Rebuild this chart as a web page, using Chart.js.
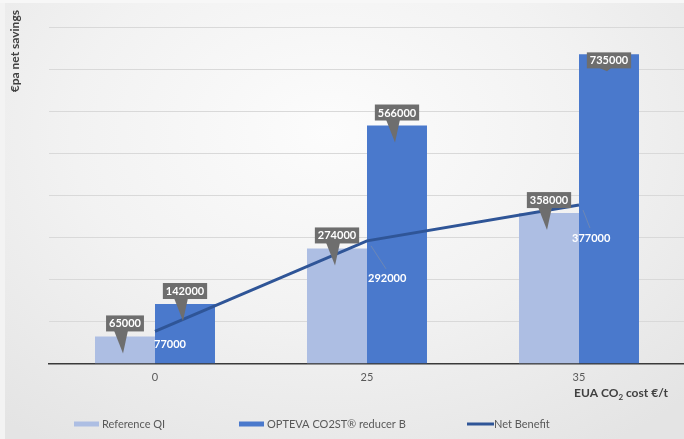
<!DOCTYPE html>
<html>
<head>
<meta charset="utf-8">
<script src="https://cdn.jsdelivr.net/npm/chart.js@4.4.1/dist/chart.umd.min.js"></script>
<style>
  html, body {
    margin: 0;
    padding: 0;
    width: 684px;
    height: 439px;
    overflow: hidden;
  }
  body {
    position: relative;
    background: radial-gradient(ellipse 75% 85% at 48% 30%, #fcfcfc 0%, #f2f2f2 50%, #e4e4e4 100%);
  }
  /* thin pale frame on the top and left edges */
  body::before {
    content: "";
    position: absolute;
    left: 0; top: 0; bottom: 0;
    width: 5px;
    background: #f3f3f3;
  }
  body::after {
    content: "";
    position: absolute;
    left: 0; top: 0; right: 0;
    height: 3px;
    background: #f7f7f7;
  }
  #wrap {
    position: relative;
    width: 690px;
    height: 439px;
  }
</style>
</head>
<body>
<div id="wrap"><canvas id="chart"></canvas></div>

<script>
// ======================
// DATA
// ======================
const costs = ["0", "25", "35"];
const referenceQI = [65000, 274000, 358000];
const opteva = [142000, 566000, 735000];
const netBenefit = [77000, 292000, 377000];

const seriesNames = ["Reference QI", "OPTEVA CO2ST\u00AE reducer B", "Net Benefit"];
const yMin = 0;
const yMax = 800000;
const yStep = 100000;

// ======================
// STYLE
// ======================
const FONT = "Lato, 'Open Sans', sans-serif";
const lightBlue = "#adbee3";
const midBlue = "#4a79cc";
const darkBlue = "#2f5597";
const calloutGrey = "#6e6e6e";
const textGrey = "#595959";

// vertical lift of each callout box centre from the bar top
const calloutLift = [
  [-13, -13, -13],
  [-13, -13, 6]
];
// where the net benefit labels sit, relative to the line point
const lineLabelShift = [[-1, 13], [1, 38], [-7, 33]];

// ======================
// LABEL HELPERS
// ======================
function drawCallout(ctx, x, top, text, lift) {
  const w = ctx.measureText(text).width + 6;
  const h = 16;
  const cy = top + lift;
  const left = x - w / 2;

  ctx.fillStyle = calloutGrey;
  // pointer
  ctx.beginPath();
  ctx.moveTo(x - 11, cy + h / 2 - 1);
  ctx.lineTo(x + 3, cy + h / 2 - 1);
  ctx.lineTo(x - 2, top + 17);
  ctx.closePath();
  ctx.fill();
  // box
  ctx.fillRect(left, cy - h / 2, w, h);

  ctx.fillStyle = "#ffffff";
  ctx.textAlign = "center";
  ctx.textBaseline = "middle";
  ctx.fillText(text, x, cy + 0.5);
}

const labelPlugin = {
  id: "valueLabels",
  afterDatasetsDraw(chart) {
    const ctx = chart.ctx;
    ctx.save();
    ctx.font = "bold 11px " + FONT;

    [0, 1].forEach(di => {
      chart.getDatasetMeta(di).data.forEach((bar, i) => {
        const value = chart.data.datasets[di].data[i];
        drawCallout(ctx, bar.x, bar.y, String(value), calloutLift[di][i]);
      });
    });

    // net benefit values, white text inside the bars
    chart.getDatasetMeta(2).data.forEach((pt, i) => {
      const value = chart.data.datasets[2].data[i];
      const [dx, dy] = lineLabelShift[i];
      if (i > 0) {
        ctx.strokeStyle = "rgba(150,150,150,0.45)";
        ctx.lineWidth = 1;
        ctx.beginPath();
        ctx.moveTo(pt.x + 4, pt.y + 5);
        ctx.lineTo(pt.x + dx + 18, pt.y + dy - 10);
        ctx.stroke();
      }
      ctx.fillStyle = "#ffffff";
      ctx.textAlign = "left";
      ctx.textBaseline = "middle";
      ctx.fillText(String(value), pt.x + dx, pt.y + dy);
    });
    ctx.restore();
  }
};

// axis titles and legend along the bottom
const framePlugin = {
  id: "frame",
  afterDraw(chart) {
    const ctx = chart.ctx;
    ctx.save();

    // y title
    ctx.font = "bold 12px " + FONT;
    ctx.fillStyle = "#404040";
    ctx.translate(15, 10);
    ctx.rotate(-Math.PI / 2);
    ctx.textAlign = "right";
    ctx.textBaseline = "middle";
    ctx.fillText("\u20ACpa net savings", 0, 0);
    ctx.setTransform(1, 0, 0, 1, 0, 0);

    // x title, with a subscript 2
    const parts = ["EUA CO", "2", " cost \u20AC/t"];
    const right = 668, y = 393;
    ctx.textBaseline = "middle";
    ctx.textAlign = "left";
    ctx.font = "bold 12px " + FONT;
    const w0 = ctx.measureText(parts[0]).width;
    const w2 = ctx.measureText(parts[2]).width;
    ctx.font = "bold 8px " + FONT;
    const w1 = ctx.measureText(parts[1]).width;
    let x = right - (w0 + w1 + w2);
    ctx.font = "bold 12px " + FONT;
    ctx.fillText(parts[0], x, y);
    x += w0;
    ctx.font = "bold 8px " + FONT;
    ctx.fillText(parts[1], x, y + 4);
    x += w1;
    ctx.font = "bold 12px " + FONT;
    ctx.fillText(parts[2], x, y);

    // legend
    const slots = [74, 239, 467];
    const ly = 424;
    ctx.font = "11px " + FONT;
    chart.data.datasets.forEach((ds, i) => {
      const sx = slots[i];
      if (ds.type === "line") {
        ctx.strokeStyle = ds.borderColor;
        ctx.lineWidth = 3;
        ctx.beginPath();
        ctx.moveTo(sx, ly);
        ctx.lineTo(sx + 27, ly);
        ctx.stroke();
      } else {
        ctx.fillStyle = ds.backgroundColor;
        ctx.fillRect(sx, ly - 2.5, 25, 5);
      }
      ctx.fillStyle = textGrey;
      ctx.fillText(ds.label, sx + (ds.type === "line" ? 27 : 28), ly);
    });

    ctx.restore();
  }
};

// ======================
// CHART
// ======================
new Chart(document.getElementById("chart"), {
  data: {
    labels: costs,
    datasets: [
      {
        type: "bar",
        label: seriesNames[0],
        data: referenceQI,
        backgroundColor: lightBlue,
        order: 2
      },
      {
        type: "bar",
        label: seriesNames[1],
        data: opteva,
        backgroundColor: midBlue,
        order: 2
      },
      {
        type: "line",
        label: seriesNames[2],
        data: netBenefit,
        borderColor: darkBlue,
        backgroundColor: darkBlue,
        borderWidth: 3,
        pointRadius: 0,
        tension: 0,
        order: 1
      }
    ]
  },
  options: {
    responsive: true,
    maintainAspectRatio: false,
    animation: false,
    layout: {
      padding: { left: 49, right: 5, top: 27, bottom: 48 }
    },
    datasets: {
      bar: { categoryPercentage: 0.566, barPercentage: 1.0 }
    },
    plugins: {
      legend: { display: false },
      tooltip: { enabled: false }
    },
    scales: {
      x: {
        grid: { display: false, drawTicks: false },
        border: { display: true, color: "#3a3a3a", width: 1.5 },
        ticks: {
          color: textGrey,
          font: { family: FONT, size: 11 },
          padding: 7
        }
      },
      y: {
        min: yMin,
        max: yMax,
        afterFit: s => { s.width = 0; },
        ticks: { display: false, stepSize: yStep },
        grid: { color: "#d9d9d9", lineWidth: 1, drawTicks: false },
        border: { display: false }
      }
    }
  },
  plugins: [labelPlugin, framePlugin]
});
</script>
</body>
</html>
